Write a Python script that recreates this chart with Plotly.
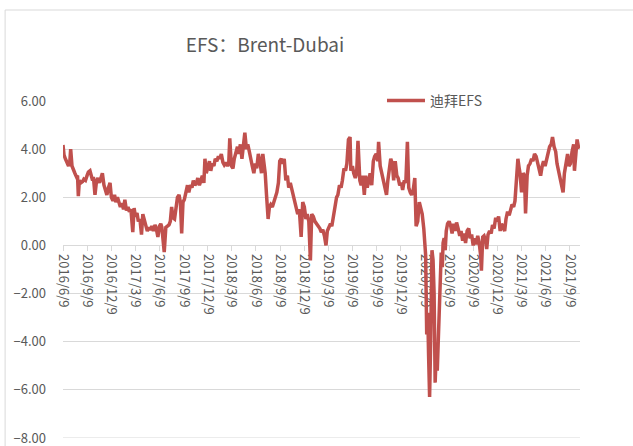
import plotly.graph_objects as go
from datetime import date, timedelta

START = date(2016, 6, 9)

day_offsets = [
    0, 4, 9, 15, 21, 26, 29, 34, 40, 45, 51, 55, 58, 62, 68, 74, 79, 85, 91, 96,
    102, 108, 112, 115, 121, 127, 132, 138, 144, 149, 155, 161, 166, 172, 178, 183, 189, 195, 200, 206,
    212, 217, 223, 229, 234, 240, 246, 251, 257, 264, 269, 274, 280, 285, 291, 297, 302, 308, 314, 319,
    325, 331, 336, 342, 348, 353, 359, 365, 370, 374, 383, 389, 395, 401, 406, 411, 416, 422, 427, 433,
    439, 444, 449, 454, 459, 465, 471, 476, 482, 488, 493, 499, 505, 510, 516, 522, 527, 533, 537, 542,
    548, 554, 559, 565, 571, 576, 582, 588, 593, 599, 605, 610, 616, 622, 627, 631, 637, 643, 648, 654,
    660, 665, 671, 677, 682, 688, 694, 699, 705, 711, 716, 722, 728, 733, 739, 745, 751, 756, 762, 765,
    770, 776, 781, 786, 792, 798, 803, 809, 815, 820, 826, 832, 837, 843, 849, 854, 860, 866, 871, 877,
    883, 888, 894, 901, 907, 913, 919, 924, 930, 936, 941, 947, 953, 960, 966, 972, 977, 983, 989, 995,
    1000, 1006, 1012, 1017, 1023, 1029, 1035, 1040, 1046, 1052, 1057, 1063, 1069, 1074, 1080, 1086, 1089, 1095, 1100, 1106,
    1111, 1116, 1123, 1128, 1134, 1140, 1145, 1151, 1157, 1162, 1168, 1174, 1179, 1185, 1191, 1194, 1200, 1206, 1212, 1217,
    1224, 1229, 1234, 1240, 1246, 1251, 1257, 1263, 1268, 1274, 1280, 1285, 1291, 1297, 1303, 1308, 1314, 1319, 1325, 1331,
    1336, 1342, 1348, 1353, 1359, 1365, 1368, 1372, 1376, 1380, 1383, 1387, 1391, 1396, 1400, 1404, 1408, 1412, 1416, 1419,
    1423, 1427, 1431, 1435, 1438, 1442, 1446, 1450, 1455, 1461, 1467, 1472, 1478, 1484, 1489, 1495, 1501, 1506, 1512, 1518,
    1523, 1529, 1535, 1540, 1546, 1552, 1557, 1563, 1569, 1574, 1580, 1583, 1588, 1593, 1599, 1603, 1608, 1614, 1620, 1625,
    1631, 1637, 1642, 1648, 1654, 1659, 1665, 1671, 1676, 1682, 1688, 1693, 1699, 1705, 1710, 1716, 1721, 1726, 1729, 1735,
    1741, 1746, 1750, 1756, 1761, 1767, 1773, 1778, 1784, 1790, 1796, 1801, 1807, 1813, 1818, 1824, 1830, 1835, 1841, 1847,
    1852, 1858, 1864, 1869, 1875, 1880, 1886, 1892, 1897, 1903, 1909, 1914, 1920, 1926, 1932, 1935, 1941, 1945, 1950, 1956,
]

efs_values = [
    4.17, 3.75, 3.6, 3.45, 3.3, 3.5, 4.0, 3.3, 3.1, 3.0, 2.85, 2.9, 2.05, 2.7, 2.6, 2.65, 2.75, 2.7, 2.9, 3.05,
    3.1, 2.85, 2.7, 2.85, 2.1, 2.7, 2.8, 2.6, 2.85, 3.0, 2.5, 2.3, 2.1, 2.4, 2.6, 2.0, 1.85, 2.1, 1.8, 2.0,
    1.7, 1.6, 1.75, 1.5, 1.9, 1.45, 1.6, 1.4, 1.5, 0.55, 1.55, 1.2, 1.35, 1.0, 1.1, 0.45, 1.3, 1.1, 0.8, 0.6,
    0.75, 0.65, 0.8, 0.6, 0.85, 0.7, 0.35, 0.8, 0.9, 0.75, -0.28, 0.75, 0.8, 0.85, 1.0, 1.6, 1.15, 1.1, 1.5, 2.0,
    2.1, 1.8, 0.5, 1.8, 1.9, 2.2, 2.5, 2.2, 2.5, 2.4, 2.7, 2.5, 2.6, 2.8, 2.5, 2.7, 2.9, 2.6, 3.6, 3.0,
    3.3, 3.5, 3.1, 3.4, 3.3, 3.6, 3.5, 3.7, 3.6, 3.8, 3.45, 3.35, 3.45, 3.3, 3.4, 4.45, 3.3, 3.2, 3.6, 3.9,
    4.1, 3.8, 4.2, 3.6, 4.0, 4.68, 4.0, 4.2, 3.9, 3.5, 3.3, 3.0, 3.4, 3.2, 3.8, 3.5, 3.0, 3.8, 3.2, 3.0,
    2.1, 1.1, 1.6, 1.7, 1.6, 1.8, 2.0, 2.2, 2.6, 3.5, 3.6, 3.4, 3.6, 2.7, 2.9, 2.4, 2.6, 2.3, 2.0, 1.8,
    1.5, 1.3, 1.5, 0.35, 1.8, 1.6, 1.1, 1.3, 1.0, -0.62, 1.3, 1.2, 1.0, 0.9, 0.8, 0.7, 0.55, 0.65, 0.4, 0.0,
    0.6, 0.75, 0.9, 0.8, 1.3, 1.6, 2.0, 2.1, 2.5, 2.4, 2.7, 3.2, 3.1, 3.4, 4.4, 4.5, 3.1, 3.3, 3.0, 2.8,
    3.0, 4.35, 2.7, 2.5, 2.9, 2.1, 2.9, 2.4, 2.7, 3.0, 2.5, 3.5, 3.7, 3.8, 3.5, 4.3, 3.3, 3.0, 2.8, 2.6,
    2.1, 2.7, 3.2, 3.6, 3.4, 2.7, 3.5, 2.9, 2.8, 2.5, 2.6, 2.3, 2.7, 2.6, 4.3, 2.4, 2.2, 2.1, 2.3, 2.8,
    0.8, 1.0, 1.8, 1.6, 1.3, 0.7, 0.3, -0.4, -3.7, -2.8, -4.5, -6.3, -4.0, -0.2, -0.6, -2.0, -5.7, -4.5, -5.2, -4.0,
    -2.5, -0.8, -0.3, -0.9, 0.1, 0.3, -0.2, 0.6, 0.9, 1.0, 0.8, 0.5, 0.9, 0.6, 0.95, 0.7, 0.4, 0.6, 0.2, 0.5,
    0.1, 0.6, 0.7, 0.3, 0.45, 0.0, 0.3, 0.05, 0.4, 0.15, -0.4, -1.05, 0.35, 0.4, 0.2, -0.15, 0.45, 0.6, 0.5, 0.85,
    0.7, 1.15, 1.0, 1.2, 0.6, 0.9, 0.7, 0.6, 1.1, 1.4, 1.25, 1.5, 1.7, 1.6, 1.85, 2.8, 3.6, 3.2, 3.0, 2.2,
    3.0, 2.9, 1.33, 2.9, 3.3, 3.4, 3.6, 3.5, 3.8, 3.7, 3.4, 3.2, 2.9, 3.3, 3.5, 3.3, 3.6, 3.9, 4.1, 4.2,
    4.5, 4.1, 3.9, 3.4, 3.1, 2.9, 2.6, 2.2, 3.0, 3.5, 3.8, 3.3, 3.4, 3.9, 4.2, 3.1, 4.2, 4.4, 4.1, 4.05,
]

tick_dates = [
    "2016-06-09", "2016-09-09", "2016-12-09", "2017-03-09", "2017-06-09", "2017-09-09",
    "2017-12-09", "2018-03-09", "2018-06-09", "2018-09-09", "2018-12-09", "2019-03-09",
    "2019-06-09", "2019-09-09", "2019-12-09", "2020-03-09", "2020-06-09", "2020-09-09",
    "2020-12-09", "2021-03-09", "2021-06-09", "2021-09-09",
]
tick_labels = [
    "2016/6/9", "2016/9/9", "2016/12/9", "2017/3/9", "2017/6/9", "2017/9/9",
    "2017/12/9", "2018/3/9", "2018/6/9", "2018/9/9", "2018/12/9", "2019/3/9",
    "2019/6/9", "2019/9/9", "2019/12/9", "2020/3/9", "2020/6/9", "2020/9/9",
    "2020/12/9", "2021/3/9", "2021/6/9", "2021/9/9",
]

series_name = "迪拜EFS"
title_text = "EFS：Brent-Dubai"

dates = [START + timedelta(days=d) for d in day_offsets]

FONT = "Noto Sans CJK SC"
GRAY = "#595959"
GRID = "#d9d9d9"

fig = go.Figure()
fig.add_trace(go.Scatter(
    x=dates, y=efs_values, mode="lines", name=series_name,
    line=dict(color="#c0504d", width=3.5),
))

Y_MIN, Y_MAX = -8.0, 6.0

fig.update_layout(
    width=633, height=446,
    margin=dict(l=63, r=53, t=101, b=8, autoexpand=False),
    paper_bgcolor="white", plot_bgcolor="white",
    font=dict(family=FONT, color=GRAY, size=13),
    title=dict(text=title_text, x=265 / 633, xref="container", xanchor="center",
               y=1 - 45 / 446, yref="container", yanchor="middle",
               font=dict(size=19, color=GRAY, family=FONT)),
    showlegend=True,
    legend=dict(x=0.617, y=1.0, xanchor="left", yanchor="middle",
                orientation="h", itemwidth=38,
                font=dict(size=14, color=GRAY, family=FONT),
                bgcolor="rgba(0,0,0,0)"),
    shapes=[
        dict(type="rect", xref="paper", yref="paper",
             x0=-0.112, x1=1.3, y0=-0.2, y1=1.27,
             line=dict(color=GRID, width=1), fillcolor="rgba(0,0,0,0)",
             layer="below"),
        dict(type="line", xref="paper", yref="y", x0=0, x1=1, y0=Y_MIN, y1=Y_MIN,
             line=dict(color=GRID, width=1), layer="below"),
    ],
)

fig.update_xaxes(
    type="date", range=["2016-06-09", "2021-10-17"],
    tickmode="array", tickvals=tick_dates, ticktext=tick_labels,
    tickangle=90, tickfont=dict(size=13, color=GRAY, family=FONT),
    anchor="free", position=(0 - Y_MIN) / (Y_MAX - Y_MIN),
    showline=True, linecolor=GRID, linewidth=1,
    ticks="outside", ticklen=5, tickcolor=GRID,
    showgrid=False, zeroline=False, layer="below traces",
)
fig.update_yaxes(
    range=[Y_MIN, Y_MAX], dtick=2, tick0=0, tickformat=".2f",
    showgrid=True, gridcolor=GRID, gridwidth=1,
    zeroline=False, showline=False, ticks="",
    tickfont=dict(size=13, color=GRAY, family=FONT),
    ticklabelstandoff=16, ticklabeloverflow="allow",
)

fig.write_html(
    "out.html",
    config={"displayModeBar": False},
    post_script="document.body.style.margin='0px';document.body.style.overflow='hidden';",
)
